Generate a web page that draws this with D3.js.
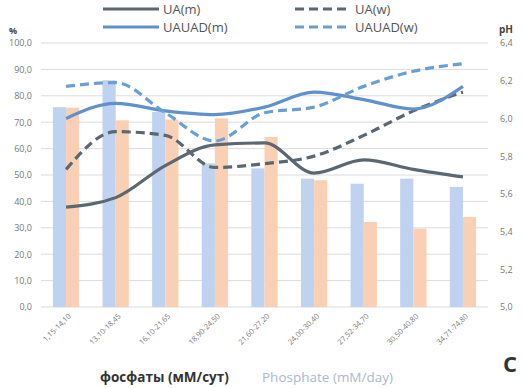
<!DOCTYPE html>
<html>
<head>
<meta charset="utf-8">
<script src="https://cdn.jsdelivr.net/npm/d3@7"></script>
<style>
  body { margin: 0; background: #fff; }
  text { font-family: "Open Sans", "DejaVu Sans", sans-serif; }
</style>
</head>
<body>
<script>
// categories + series
var categories = ["1,15-14,10", "13,10-18,45", "16,10-21,65", "18,90-24,50", "21,60-27,20",
    "24,00-30,40", "27,52-34,70", "30,50-40,80", "34,71-74,80"];
var barsM = [75.7, 85.9, 73.9, 54.4, 52.5, 48.6, 46.7, 48.6, 45.5];
var barsW = [75.5, 70.7, 71.0, 71.5, 64.4, 48.0, 32.2, 29.7, 34.1];
var uaM = [5.53, 5.58, 5.75, 5.86, 5.87, 5.71, 5.78, 5.73, 5.69];
var uaW = [5.73, 5.93, 5.91, 5.74, 5.76, 5.80, 5.91, 6.04, 6.14];
var uauadM = [6.00, 6.08, 6.04, 6.02, 6.06, 6.14, 6.10, 6.05, 6.17];
var uauadW = [6.17, 6.19, 6.03, 5.88, 6.03, 6.06, 6.17, 6.25, 6.29];
var leftTicks = d3.range(0, 101, 10);
var rightTicks = [5.0, 5.2, 5.4, 5.6, 5.8, 6.0, 6.2, 6.4];

const w = 522, h = 388;
const plotL = 41, plotR = 488, plotT = 43, plotB = 307;

const svg = d3.select("body").append("svg")
    .attr("width", w)
    .attr("height", h);

var xScale = d3.scaleBand().domain(categories).range([plotL, plotR]).paddingInner(0.47).paddingOuter(0.24);
var inner = d3.scaleBand().domain(["m", "w"]).range([0, xScale.bandwidth()]);
var yScale = d3.scaleLinear().domain([0, 100]).range([plotB, plotT]);
var phScale = d3.scaleLinear().domain([5.0, 6.4]).range([plotB, plotT]);
var cx = (d, i) => xScale(categories[i]) + xScale.bandwidth() / 2;

var fmt = (v) => d3.format(".1f")(v).replace(".", ",");

// gridlines
svg.append("g").selectAll("line")
    .data(leftTicks)
    .enter()
    .append("line")
    .attr("x1", plotL).attr("x2", plotR)
    .attr("y1", (d) => yScale(d)).attr("y2", (d) => yScale(d))
    .attr("stroke", "#dcdcdc").attr("stroke-width", 1);

// left axis
var yAxis = d3.axisLeft(yScale).tickValues(leftTicks).tickFormat(fmt).tickSize(0).tickPadding(9);
var gy = svg.append("g").attr("transform", "translate(" + plotL + ",0)").call(yAxis);
gy.select(".domain").remove();
gy.selectAll("text").attr("fill", "#777").style("font-size", "9px");

// right axis
var phAxis = d3.axisRight(phScale).tickValues(rightTicks).tickFormat(fmt).tickSize(0).tickPadding(12);
var gr = svg.append("g").attr("transform", "translate(" + plotR + ",0)").call(phAxis);
gr.select(".domain").remove();
gr.selectAll("text").attr("fill", "#777").style("font-size", "9px");

// bars
svg.append("g").selectAll("rect")
    .data(barsM)
    .enter()
    .append("rect")
    .attr("x", (d, i) => xScale(categories[i]) + inner("m"))
    .attr("y", (d) => yScale(d))
    .attr("width", inner.bandwidth())
    .attr("height", (d) => yScale(0) - yScale(d))
    .attr("fill", "#bfd2ef");

svg.append("g").selectAll("rect")
    .data(barsW)
    .enter()
    .append("rect")
    .attr("x", (d, i) => xScale(categories[i]) + inner("w"))
    .attr("y", (d) => yScale(d))
    .attr("width", inner.bandwidth())
    .attr("height", (d) => yScale(0) - yScale(d))
    .attr("fill", "#f9d0b4");

// lines
var line = d3.line().x(cx).y((d) => phScale(d)).curve(d3.curveMonotoneX);
var series = [
    { vals: uaM, color: "#5b6771", dash: null },
    { vals: uaW, color: "#5b6771", dash: "9,5" },
    { vals: uauadM, color: "#5f92cd", dash: null },
    { vals: uauadW, color: "#6a9fd6", dash: "9,5" }
];
series.forEach(function (s) {
    svg.append("path")
        .attr("d", line(s.vals))
        .attr("fill", "none")
        .attr("stroke", s.color)
        .attr("stroke-width", 3.2)
        .attr("stroke-dasharray", s.dash);
});

// x labels
var xAxis = d3.axisBottom(xScale).tickSize(0).tickPadding(0);
var gx = svg.append("g").attr("transform", "translate(0," + (plotB + 8) + ")").call(xAxis);
gx.select(".domain").remove();
gx.selectAll("text")
    .attr("fill", "#777")
    .style("font-size", "7.5px")
    .attr("text-anchor", "end")
    .attr("dy", "0.3em")
    .attr("transform", "translate(4,0) rotate(-45)");

// legend
var legend = [
    { name: "UA(m)", color: "#5b6771", dash: null, x: 103, y: 9 },
    { name: "UA(w)", color: "#5b6771", dash: "9,5", x: 295, y: 9 },
    { name: "UAUAD(m)", color: "#5f92cd", dash: null, x: 103, y: 27 },
    { name: "UAUAD(w)", color: "#6a9fd6", dash: "9,5", x: 295, y: 27 }
];
legend.forEach(function (l) {
    svg.append("line")
        .attr("x1", l.x).attr("x2", l.x + 56)
        .attr("y1", l.y).attr("y2", l.y)
        .attr("stroke", l.color).attr("stroke-width", 3.2)
        .attr("stroke-dasharray", l.dash);
    svg.append("text")
        .attr("x", l.x + 60).attr("y", l.y + 5)
        .attr("fill", "#555").style("font-size", "13px")
        .text(l.name);
});

svg.append("text").attr("x", 9).attr("y", 34).attr("fill", "#444")
    .style("font-size", "9px").style("font-weight", "bold").text("%");
svg.append("text").attr("x", 499).attr("y", 33).attr("fill", "#444")
    .style("font-size", "10px").style("font-weight", "bold").text("pH");

// bottom titles
svg.append("text").attr("x", 100).attr("y", 382).attr("fill", "#333")
    .style("font-size", "13.5px").style("font-weight", "bold").text("фосфаты (мМ/сут)");
svg.append("text").attr("x", 262).attr("y", 382).attr("fill", "#aab8cc")
    .style("font-size", "13.5px").text("Phosphate  (mM/day)");
svg.append("text").attr("x", 503).attr("y", 372).attr("fill", "#333")
    .style("font-size", "22px").style("font-weight", "bold").text("C");
</script>
</body>
</html>
